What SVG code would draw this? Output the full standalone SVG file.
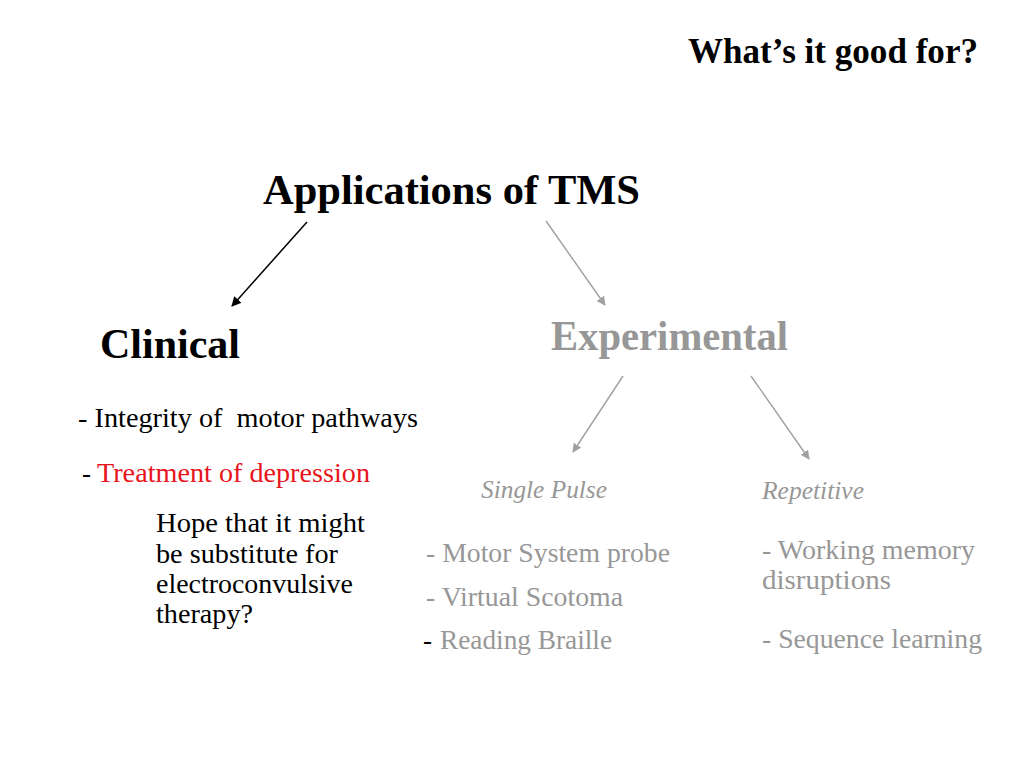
<svg xmlns="http://www.w3.org/2000/svg" width="1024" height="768" viewBox="0 0 1024 768">
<style>
  text { font-family: "Liberation Serif", "Times New Roman", serif; }
  .hd { font-weight: bold; font-size: 42px; }
  .body { font-size: 27px; fill: #000; }
  .gray { fill: #979797; }
  .it { font-style: italic; font-size: 26px; fill: #979797; }
  .red { fill: #e8141c; }
  .blk { stroke: #000; stroke-width: 1.5; fill: none; }
  .gry { stroke: #a0a0a0; stroke-width: 1.4; fill: none; }
</style>
<defs>
  <marker id="ah-b" viewBox="0 0 10 10" refX="9" refY="5" markerWidth="6.5" markerHeight="6.5" orient="auto" markerUnits="strokeWidth">
    <path d="M0,0 L10,5 L0,10 z" fill="#000"/>
  </marker>
  <marker id="ah-g" viewBox="0 0 10 10" refX="9" refY="5" markerWidth="6.5" markerHeight="6.5" orient="auto" markerUnits="strokeWidth">
    <path d="M0,0 L10,5 L0,10 z" fill="#a0a0a0"/>
  </marker>
</defs>
<rect width="1024" height="768" fill="#fff"/>

<g id="page-title">
  <text x="688" y="63" font-weight="bold" font-size="35" textLength="290" lengthAdjust="spacingAndGlyphs">What’s it good for?</text>
</g>

<g id="connectors">
  <line class="blk" x1="307" y1="222" x2="232" y2="306" marker-end="url(#ah-b)"/>
  <line class="gry" x1="546" y1="221" x2="605" y2="305" marker-end="url(#ah-g)"/>
  <line class="gry" x1="623" y1="376" x2="573" y2="452" marker-end="url(#ah-g)"/>
  <line class="gry" x1="751" y1="376" x2="809" y2="459" marker-end="url(#ah-g)"/>
</g>

<g id="node-applications">
  <text class="hd" x="263" y="204" textLength="377" lengthAdjust="spacingAndGlyphs">Applications of TMS</text>
</g>

<g id="node-clinical">
  <text class="hd" x="100" y="358" textLength="140" lengthAdjust="spacingAndGlyphs">Clinical</text>
  <text class="body" x="78" y="427" xml:space="preserve" textLength="340" lengthAdjust="spacingAndGlyphs">- Integrity of  motor pathways</text>
  <text class="body" x="82" y="482">-</text>
  <text class="body red" x="97" y="482" textLength="273" lengthAdjust="spacingAndGlyphs">Treatment of depression</text>
  <text class="body" x="156" y="532" textLength="209" lengthAdjust="spacingAndGlyphs">Hope that it might</text>
  <text class="body" x="156" y="563" textLength="182" lengthAdjust="spacingAndGlyphs">be substitute for</text>
  <text class="body" x="156" y="593" textLength="197" lengthAdjust="spacingAndGlyphs">electroconvulsive</text>
  <text class="body" x="156" y="623" textLength="97" lengthAdjust="spacingAndGlyphs">therapy?</text>
</g>

<g id="node-experimental">
  <text class="hd gray" x="551" y="350" textLength="237" lengthAdjust="spacingAndGlyphs">Experimental</text>
</g>

<g id="node-single-pulse">
  <text class="it" x="481" y="498" textLength="126" lengthAdjust="spacingAndGlyphs">Single Pulse</text>
  <text class="body gray" x="426" y="562" textLength="244" lengthAdjust="spacingAndGlyphs">- Motor System probe</text>
  <text class="body gray" x="426" y="606" textLength="197" lengthAdjust="spacingAndGlyphs">- Virtual Scotoma</text>
  <text class="body" x="423" y="649">-</text>
  <text class="body gray" x="440" y="649" textLength="172" lengthAdjust="spacingAndGlyphs">Reading Braille</text>
</g>

<g id="node-repetitive">
  <text class="it" x="762" y="499" textLength="102" lengthAdjust="spacingAndGlyphs">Repetitive</text>
  <text class="body gray" x="762" y="559" textLength="213" lengthAdjust="spacingAndGlyphs">- Working memory</text>
  <text class="body gray" x="762" y="589" textLength="129" lengthAdjust="spacingAndGlyphs">disruptions</text>
  <text class="body gray" x="762" y="648" textLength="220" lengthAdjust="spacingAndGlyphs">- Sequence learning</text>
</g>
</svg>
